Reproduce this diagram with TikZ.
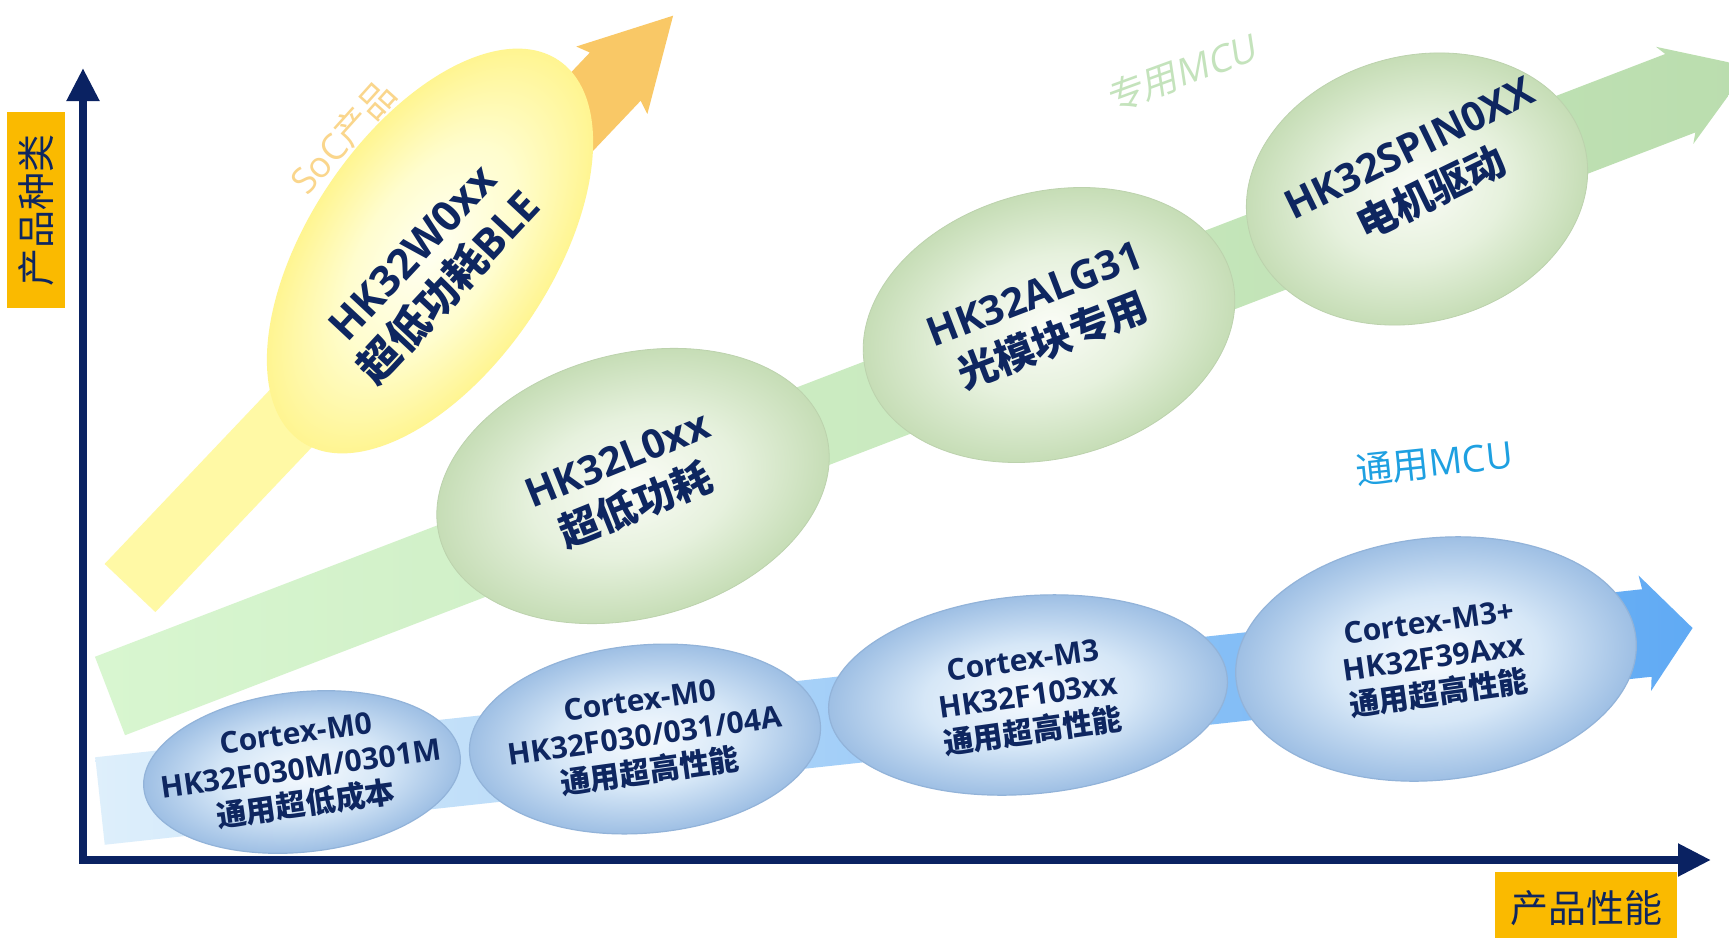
\documentclass[tikz,border=0pt]{standalone}
\usepackage{fontspec}
\setmainfont{Open Sans}
\newfontfamily\cjk{Noto Sans CJK SC}
\newcommand\zh[1]{{\cjk #1}}
\usetikzlibrary{arrows.meta}
\definecolor{navy}{RGB}{14,38,96}
\definecolor{axisblue}{RGB}{10,34,98}
\definecolor{gold}{RGB}{250,186,0}
\definecolor{ypale}{RGB}{255,249,165}
\definecolor{yorange}{RGB}{249,200,102}
\definecolor{gleft}{RGB}{216,246,208}
\definecolor{gright}{RGB}{186,221,174}
\definecolor{bleft}{RGB}{222,239,251}
\definecolor{bright}{RGB}{96,170,244}
\definecolor{bin}{RGB}{246,250,254}
\definecolor{bmid}{RGB}{214,231,247}
\definecolor{bout}{RGB}{158,191,228}
\definecolor{gin}{RGB}{250,252,246}
\definecolor{gmid}{RGB}{230,241,221}
\definecolor{gout}{RGB}{198,221,182}
\definecolor{yin}{RGB}{255,255,242}
\definecolor{ymid}{RGB}{255,253,206}
\definecolor{yout}{RGB}{255,245,145}
\definecolor{soccol}{RGB}{250,214,140}
\definecolor{zycol}{RGB}{196,227,188}
\definecolor{tycol}{RGB}{30,160,225}
\pgfdeclareradialshading{bbub}{\pgfpoint{0bp}{0bp}}{color(0bp)=(bin); color(13bp)=(bmid); color(25bp)=(bout); color(50bp)=(bout)}
\pgfdeclareradialshading{gbub}{\pgfpoint{0bp}{0bp}}{color(0bp)=(gin); color(13bp)=(gmid); color(25bp)=(gout); color(50bp)=(gout)}
\pgfdeclareradialshading{ybub}{\pgfpoint{0bp}{0bp}}{color(0bp)=(yin); color(13bp)=(ymid); color(25bp)=(yout); color(50bp)=(yout)}
\tikzset{
  axisline/.style={draw=axisblue, line width=4pt, line join=miter,
    {Triangle[length=16.5pt,width=15.5pt]}-{Triangle[length=16.5pt,width=15.5pt]}},
  goldbox/.style={fill=gold, text=navy, inner sep=0pt, font=\cjk\fontsize{19}{19}\selectfont},
  btext/.style={align=center, text=navy, inner sep=0pt, font=\bfseries\fontsize{15}{18}\selectfont},
  gtext/.style={align=center, text=navy, inner sep=0pt, font=\bfseries\fontsize{20}{25}\selectfont},
  ytext/.style={align=center, text=navy, inner sep=0pt, font=\bfseries\fontsize{21}{25}\selectfont},
  bbubble/.style={shading=bbub, draw=bout!92!navy, line width=0.6pt},
  gbubble/.style={shading=gbub, draw=gout!95!black, line width=0.4pt},
  ybubble/.style={shading=ybub},
}
\begin{document}
\begin{tikzpicture}[x=0.5pt, y=-0.5pt]
\useasboundingbox (0,0) rectangle (1729,937);
\fill[white] (0,0) rectangle (1729,937);
% ---- yellow band (SoC)
\begin{scope}[shift={(130,588)}, rotate=46.5]
  \fill[ypale] (0,-35) rectangle (530,35);
  \fill[yorange] (500,-35) -- (705,-35) -- (700,-49) -- (789,0) -- (700,49) -- (705,35) -- (500,35) -- cycle;
\end{scope}
% ---- green band
\begin{scope}[shift={(110,696)}, rotate=21]
  \shade[left color=gleft, right color=gright] (0,-42) -- (1682,-42) -- (1676,-52) -- (1756,0) -- (1676,52) -- (1682,42) -- (0,42) -- cycle;
\end{scope}
% ---- blue band
\begin{scope}[shift={(100,801)}, rotate=6.2]
  \shade[left color=bleft, right color=bright] (0,-44) -- (1556,-44) -- (1554,-58) -- (1602,0) -- (1554,58) -- (1556,44) -- (0,44) -- cycle;
\end{scope}
% ---- bubbles
\begin{scope}[transform canvas={shift={(430,251)}, rotate=56}]
  \shade[ybubble] (0,0) ellipse [x radius=230, y radius=121];
\end{scope}
\begin{scope}[transform canvas={shift={(633,486)}, rotate=15}]
  \shade[gbubble] (0,0) ellipse [x radius=200, y radius=132];
\end{scope}
\begin{scope}[transform canvas={shift={(1049,325)}, rotate=15}]
  \shade[gbubble] (0,0) ellipse [x radius=189, y radius=133];
\end{scope}
\begin{scope}[transform canvas={shift={(1417,189)}, rotate=15}]
  \shade[gbubble] (0,0) ellipse [x radius=173, y radius=133];
\end{scope}
\begin{scope}[transform canvas={shift={(302,772)}, rotate=6}]
  \shade[bbubble] (0,0) ellipse [x radius=159, y radius=80];
\end{scope}
\begin{scope}[transform canvas={shift={(645,739)}, rotate=5}]
  \shade[bbubble] (0,0) ellipse [x radius=176, y radius=94];
\end{scope}
\begin{scope}[transform canvas={shift={(1028,695)}, rotate=5}]
  \shade[bbubble] (0,0) ellipse [x radius=200, y radius=99];
\end{scope}
\begin{scope}[transform canvas={shift={(1436,659)}, rotate=6}]
  \shade[bbubble] (0,0) ellipse [x radius=201, y radius=121];
\end{scope}
% ---- bubble texts
\node[ytext, rotate=47] (y1) at (432,271) {HK32W0xx\\\zh{超低功耗}BLE};
\node[gtext, rotate=22] (g1) at (627,484) {HK32L0xx\\\zh{超低功耗}};
\node[gtext, rotate=21] (g2) at (1044,319) {HK32ALG31\\\zh{光模块专用}};
\node[gtext, rotate=26] (g3) at (1421,172) {HK32SPIN0XX\\\zh{电机驱动}};
\node[btext, rotate=8] (e1) at (301,770) {Cortex-M0\\HK32F030M/0301M\\\zh{通用超低成本}};
\node[btext, rotate=8] (e2) at (645,737) {Cortex-M0\\HK32F030/031/04A\\\zh{通用超高性能}};
\node[btext, rotate=8] (e3) at (1028,697) {Cortex-M3\\HK32F103xx\\\zh{通用超高性能}};
\node[btext, rotate=8] (e4) at (1434,659) {Cortex-M3+\\HK32F39Axx\\\zh{通用超高性能}};
% ---- category labels
\node[text=soccol, inner sep=0pt, font=\fontsize{18}{18}\selectfont, rotate=48] (soc) at (343,137) {SoC\zh{产品}};
\node[text=zycol, inner sep=0pt, font=\fontsize{18.5}{18.5}\selectfont, rotate=20, xslant=0.2] (zy) at (1183,72) {\zh{专用}MCU};
\node[text=tycol, inner sep=0pt, font=\fontsize{18.5}{18.5}\selectfont, rotate=6] (ty) at (1434,463) {\zh{通用}MCU};
% ---- axes
\coordinate (O) at (83,860);
\coordinate (Ytip) at (83,68);
\coordinate (Xtip) at (1711,860);
\draw[axisline] (Ytip) -- (O) -- (Xtip);
\node[goldbox, minimum width=98pt, minimum height=29pt, rotate=90] (ylab) at (36,210) {\zh{产品种类}};
\node[goldbox, minimum width=91pt, minimum height=36pt] (xlab) at (1586,908) {\zh{产品性能}};
\end{tikzpicture}
\end{document}
